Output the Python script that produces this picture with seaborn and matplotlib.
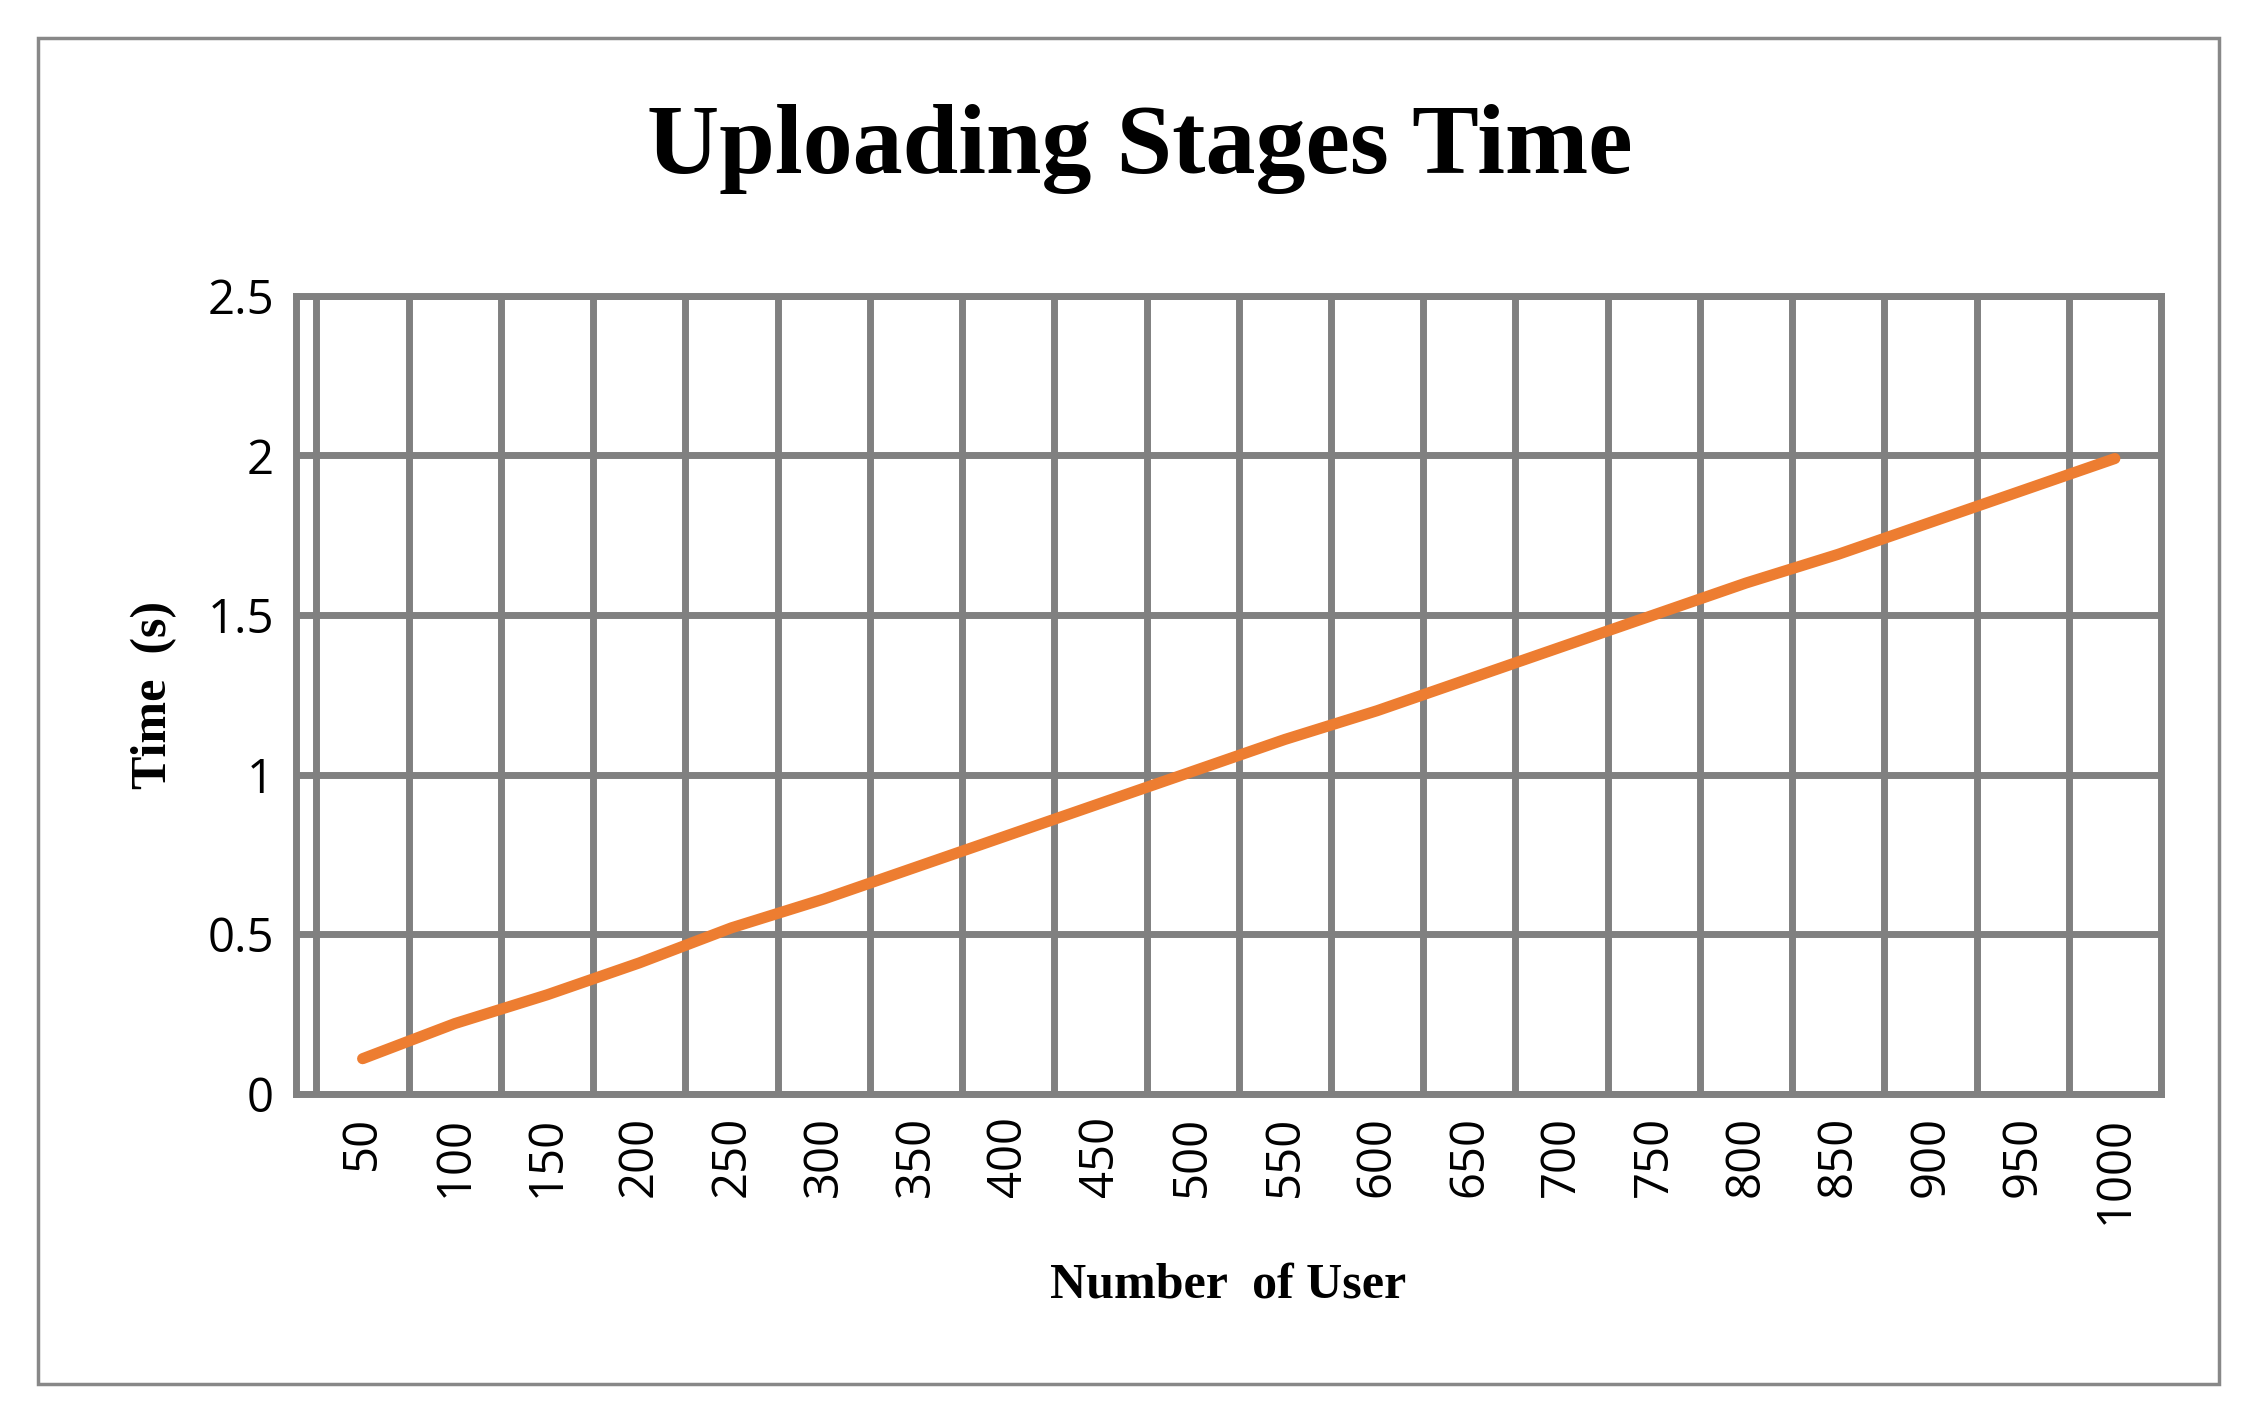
import matplotlib
matplotlib.use("Agg")
import matplotlib.pyplot as plt
import seaborn as sns
import pandas as pd
import numpy as np
from matplotlib.patches import Rectangle

users = [50,100,150,200,250,300,350,400,450,500,550,600,650,700,750,800,850,900,950,1000]
times = [0.11,0.22,0.31,0.41,0.52,0.61,0.71,0.81,0.91,1.01,1.11,1.20,1.30,1.40,1.50,1.60,1.69,1.79,1.89,1.99]
yticks = [0, 0.5, 1, 1.5, 2, 2.5]
ytick_labels = ["0", "0.5", "1", "1.5", "2", "2.5"]

sns.set_theme(style="white")
plt.rcParams['font.family'] = ['Open Sans', 'DejaVu Sans']
plt.rcParams['text.color'] = 'black'
plt.rcParams['xtick.color'] = 'black'
plt.rcParams['ytick.color'] = 'black'
plt.rcParams['axes.labelcolor'] = 'black'

fig = plt.figure(figsize=(22.44, 14.15), dpi=100)
fig.patches.append(Rectangle((0.017, 0.022), 0.972, 0.951, transform=fig.transFigure,
                             fill=False, edgecolor='#888888', lw=2.5))
ax = fig.add_axes([0.132, 0.227, 0.831, 0.564])

df = pd.DataFrame({"pos": np.arange(len(users)), "t": times})
sns.lineplot(data=df, x="pos", y="t", ax=ax, color="#ED7D31", lw=8, solid_capstyle='round')

ax.set_xlim(-0.72, len(users) - 0.5)
ax.set_ylim(0, 2.5)
ax.set_xticks(np.arange(len(users)))
ax.set_xticklabels([str(u) for u in users], rotation=90, fontsize=34)
ax.set_xticks(np.arange(len(users)) - 0.5, minor=True)
ax.set_yticks(yticks)
ax.set_yticklabels(ytick_labels, fontsize=34)
ax.tick_params(axis='x', which='both', length=0, pad=16)
ax.tick_params(axis='y', length=0, pad=16)
ax.grid(True, which='minor', axis='x', color='#808080', lw=5)
ax.grid(True, which='major', axis='y', color='#808080', lw=5)
ax.grid(False, which='major', axis='x')
for s in ax.spines.values():
    s.set_visible(True); s.set_color('#808080'); s.set_linewidth(5)
ax.set_axisbelow(True)

ax.set_xlabel("Number  of User", family='Liberation Serif', fontweight='bold', fontsize=36, labelpad=28)
ax.set_ylabel("Time  (s)", family='Liberation Serif', fontweight='bold', fontsize=36, labelpad=22)
fig.text(0.508, 0.895, "Uploading Stages Time", ha='center', va='center',
         family='Liberation Serif', fontweight='bold', fontsize=72)

fig.savefig("out.png", dpi=100)
